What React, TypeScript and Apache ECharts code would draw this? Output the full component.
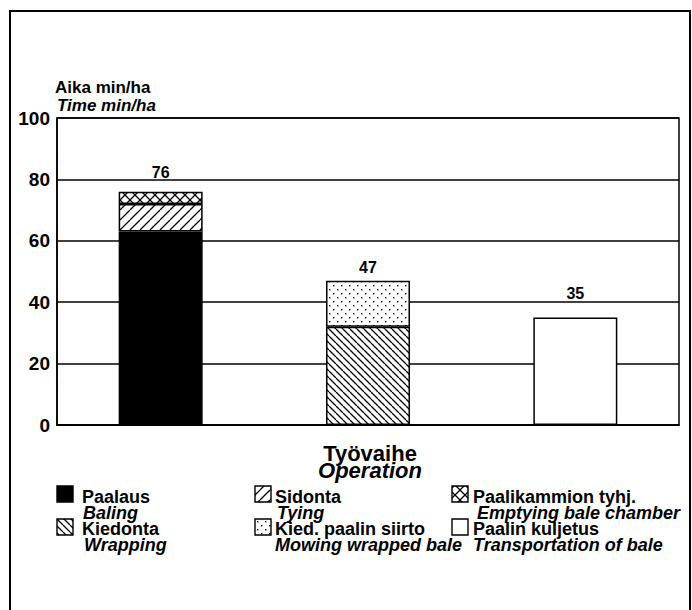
import React, { useEffect, useRef } from "react";
import * as echarts from "echarts";

// ---- data ----
const categories = ["A", "B", "C"];
const phasesFi = ["Paalaus", "Kiedonta", "Sidonta", "Kied. paalin siirto", "Paalikammion tyhj.", "Paalin kuljetus"];
const phasesEn = ["Baling", "Wrapping", "Tying", "Mowing wrapped bale", "Emptying bale chamber", "Transportation of bale"];
const paalaus = [63, null, null];
const kiedonta = [null, 32, null];
const sidonta = [9, null, null];
const siirto = [null, 15, null];
const tyhjennys = [4, null, null];
const kuljetus = [null, null, 35];
const totals = [76, 47, 35];
const yMin = 0;
const yMax = 100;
const yStep = 20;
const yTitleFi = "Aika min/ha";
const yTitleEn = "Time min/ha";
const xTitleFi = "Työvaihe";
const xTitleEn = "Operation";

// ---- styling ----
const FONT = "'Liberation Sans', Arial, Helvetica, sans-serif";
const labelGaps = [11, 5, 16];
// legend layout: three columns, two entries each (indices into phasesFi)
const legendCols = [[0, 1], [2, 3], [4, 5]];
const colSwatchX = [57, 255, 452];
const colTextX = [82, 275, 473];
const swatchY = [486, 519];
const enIndent = [1, 2, 2, 0, 4, 0];
const legendTextTop = 489;
const legendLineH = 16;

function makePattern(kind: string, size: number) {
  const c = document.createElement("canvas");
  c.width = size;
  c.height = size;
  const ctx = c.getContext("2d")!;
  ctx.fillStyle = "#fff";
  ctx.fillRect(0, 0, size, size);
  ctx.strokeStyle = "#000";
  ctx.fillStyle = "#000";
  ctx.lineWidth = 1.3;
  if (kind.includes("/")) {
    ctx.beginPath();
    for (let k = -1; k <= 1; k++) {
      ctx.moveTo(k * size, size);
      ctx.lineTo(k * size + size, 0);
    }
    ctx.stroke();
  }
  if (kind.includes("\\")) {
    ctx.beginPath();
    for (let k = -1; k <= 1; k++) {
      ctx.moveTo(k * size, 0);
      ctx.lineTo(k * size + size, size);
    }
    ctx.stroke();
  }
  if (kind === "dots") {
    ctx.fillRect(1, 1, 1.4, 1.4);
    ctx.fillRect(size / 2 + 1, size / 2 + 1, 1.4, 1.4);
  }
  return { image: c, repeat: "repeat", imageWidth: size, imageHeight: size } as any;
}

export default function App() {
  const ref = useRef<HTMLDivElement>(null);
  useEffect(() => {
    if (!ref.current) return;
    const chart = echarts.init(ref.current, null, { renderer: "svg" });

    const fills: any[] = [
      "#000",
      makePattern("\\", 7),
      makePattern("/", 10),
      makePattern("dots", 8),
      makePattern("/\\", 10),
      "#fff",
    ];
    const seriesData = [paalaus, kiedonta, sidonta, siirto, tyhjennys, kuljetus];
    const stackOrder = [0, 2, 4, 1, 3, 5];

    // which series is the top segment of each stacked bar
    const topSeries = categories.map((_, c) => {
      let top = -1;
      stackOrder.forEach((s) => {
        if (seriesData[s][c] != null) top = s;
      });
      return top;
    });

    const barSeries = stackOrder.map((i) => ({
      type: "bar",
      name: phasesFi[i],
      stack: "total",
      barWidth: "40.5%",
      data: seriesData[i].map((v, c) =>
        topSeries[c] === i
          ? {
              value: v,
              label: {
                show: true,
                position: "top",
                distance: labelGaps[c],
                formatter: String(totals[c]),
                color: "#000",
                fontFamily: FONT,
                fontWeight: "bold",
                fontSize: 16,
              },
            }
          : v
      ),
      itemStyle: { color: fills[i], borderColor: "#000", borderWidth: 1.5 },
      emphasis: { disabled: true },
    }));

    const graphics: any[] = [
      {
        type: "rect",
        shape: { x: 10, y: 11, width: 680, height: 620 },
        style: { fill: "none", stroke: "#000", lineWidth: 2 },
        silent: true,
      },
      {
        type: "text",
        x: 55,
        y: 87,
        style: { text: yTitleFi, fill: "#000", font: `bold 17px ${FONT}`, verticalAlign: "middle", lineHeight: 15 },
      },
      {
        type: "text",
        x: 57,
        y: 105,
        style: { text: yTitleEn, fill: "#000", font: `italic bold 17px ${FONT}`, verticalAlign: "middle", lineHeight: 15 },
      },
      {
        type: "text",
        x: 370,
        y: 445,
        style: {
          text: `{a|${xTitleFi}}\n{b|${xTitleEn}}`,
          fill: "#000",
          align: "center",
          verticalAlign: "top",
          rich: {
            a: { font: `bold 22px ${FONT}`, lineHeight: 17, fill: "#000", align: "center" },
            b: { font: `italic bold 22px ${FONT}`, lineHeight: 17, fill: "#000", align: "center" },
          },
        },
      },
    ];

    legendCols.forEach((col, ci) => {
      const rich: any = {};
      const lines: string[] = [];
      col.forEach((idx, ri) => {
        graphics.push({
          type: "rect",
          shape: { x: colSwatchX[ci], y: swatchY[ri], width: 16, height: 16 },
          style: { fill: fills[idx], stroke: "#000", lineWidth: 1.4 },
        });
        rich[`f${idx}`] = { font: `bold 18px ${FONT}`, lineHeight: legendLineH, fill: "#000" };
        rich[`e${idx}`] = {
          font: `italic bold 18px ${FONT}`,
          lineHeight: legendLineH,
          fill: "#000",
          padding: [0, 0, 0, enIndent[idx]],
        };
        lines.push(`{f${idx}|${phasesFi[idx]}}`);
        lines.push(`{e${idx}|${phasesEn[idx]}}`);
      });
      graphics.push({
        type: "text",
        x: colTextX[ci],
        y: legendTextTop,
        style: {
          text: lines.join("\n"),
          fill: "#000",
          verticalAlign: "top",
          rich,
        },
      });
    });

    chart.setOption({
      animation: false,
      grid: {
        left: 57,
        right: 13,
        top: 118,
        bottom: 185,
        show: true,
        borderColor: "#000",
        borderWidth: 1.5,
        backgroundColor: "transparent",
      },
      xAxis: {
        type: "category",
        data: categories,
        axisLine: { show: true, lineStyle: { color: "#000", width: 1.5 } },
        axisTick: { show: false },
        axisLabel: { show: false },
      },
      yAxis: {
        type: "value",
        min: yMin,
        max: yMax,
        interval: yStep,
        axisLine: { show: true, lineStyle: { color: "#000", width: 1.5 } },
        axisTick: { show: false },
        axisLabel: {
          margin: 7,
          color: "#000",
          fontFamily: FONT,
          fontWeight: "bold",
          fontSize: 19,
        },
        splitLine: { show: true, lineStyle: { color: "#000", width: 1.5 } },
      },
      series: barSeries,
      graphic: graphics,
    } as any);

    return () => chart.dispose();
  }, []);

  return (
    <div
      ref={ref}
      style={{ position: "absolute", left: 0, top: 0, width: 692, height: 610, background: "#fff" }}
    />
  );
}
